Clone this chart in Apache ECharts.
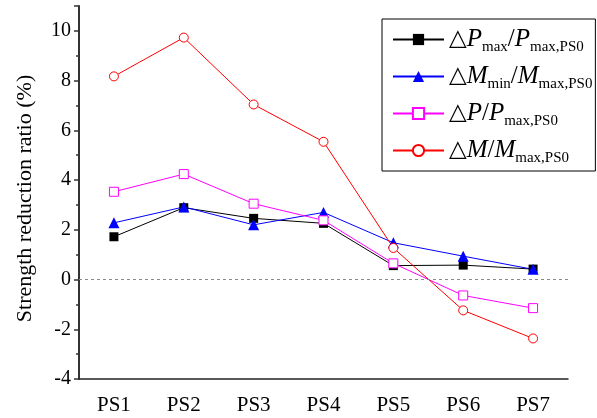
<!DOCTYPE html>
<html>
<head>
<meta charset="utf-8">
<script src="https://cdn.jsdelivr.net/npm/echarts@6/dist/echarts.min.js"></script>
<style>
    html, body { margin: 0; padding: 0; background: #fff; }
    #chart { width: 597px; height: 418px; }
</style>
</head>
<body>
<div id="chart"></div>
<script>
    // 数据
    var categories = ['PS1', 'PS2', 'PS3', 'PS4', 'PS5', 'PS6', 'PS7'];
    var dPmax = [1.72, 2.89, 2.46, 2.26, 0.56, 0.58, 0.42];
    var dMmin = [2.28, 2.92, 2.20, 2.70, 1.48, 0.94, 0.41];
    var dP = [3.53, 4.24, 3.05, 2.38, 0.65, -0.64, -1.15];
    var dM = [8.17, 9.73, 7.04, 5.54, 1.27, -1.24, -2.37];
    var yMin = -4, yMax = 11, yStep = 2;

    var FONT = '"Liberation Serif", "Times New Roman", serif';

    // 图例文字 (带下标)
    var legendText = {
        dPmax: '{d|△}{i|P}{s|max}{n|/}{i|P}{s|max,PS0}',
        dMmin: '{d|△}{i|M}{s|min}{n|/}{i|M}{s|max,PS0}',
        dP: '{d|△}{i|P}{n|/}{i|P}{s|max,PS0}',
        dM: '{d|△}{i|M}{n|/}{i|M}{s|max,PS0}'
    };

    var chart = echarts.init(document.getElementById('chart'));

    function lineSeries(name, data, color, symbol, size, hollow) {
        return {
            name: name,
            type: 'line',
            data: data,
            symbol: symbol,
            symbolSize: size,
            showAllSymbol: true,
            lineStyle: { color: color, width: 1 },
            itemStyle: {
                color: hollow ? '#fff' : color,
                borderColor: color,
                borderWidth: hollow ? 1 : 0
            },
            animation: false
        };
    }

    var series = [
        lineSeries('dPmax', dPmax, '#000000', 'rect', 9, false),
        lineSeries('dMmin', dMmin, '#0000ff', 'triangle', 11, false),
        lineSeries('dP', dP, '#ff00ff', 'rect', 9, true),
        lineSeries('dM', dM, '#ff0000', 'circle', 9, true)
    ];
    // 0 参考线
    series[3].markLine = {
        silent: true,
        symbol: ['none', 'none'],
        label: { show: false },
        emphasis: { disabled: true },
        lineStyle: { type: [3, 3], color: '#8a8a8a', width: 1, opacity: 1 },
        data: [{ yAxis: 0 }],
        animation: false
    };

    chart.setOption({
        backgroundColor: '#fff',
        textStyle: { fontFamily: FONT },
        grid: { left: 79, right: 29, top: 6, bottom: 39 },
        legend: {
            orient: 'vertical',
            left: 382,
            top: 19,
            padding: [5, 3, 5, 10],
            itemGap: 6,
            itemWidth: 51,
            itemHeight: 14,
            borderColor: '#000',
            borderWidth: 1,
            data: ['dPmax', 'dMmin', 'dP', 'dM'],
            formatter: function(name) { return legendText[name]; },
            textStyle: {
                fontFamily: FONT,
                color: '#000',
                rich: {
                    d: { fontSize: 23, fontFamily: '"DejaVu Sans", sans-serif', verticalAlign: 'middle', lineHeight: 26 },
                    i: { fontSize: 25, fontStyle: 'italic', fontFamily: FONT, verticalAlign: 'middle', lineHeight: 26 },
                    n: { fontSize: 25, fontFamily: FONT, verticalAlign: 'middle', lineHeight: 26 },
                    s: { fontSize: 15, fontFamily: FONT, verticalAlign: 'middle', lineHeight: 16, padding: [16, 0, 0, 0] }
                }
            }
        },
        xAxis: [{
            type: 'category',
            data: categories,
            boundaryGap: true,
            axisLine: { onZero: false, lineStyle: { color: '#222', width: 1.5 } },
            axisTick: { alignWithLabel: true, length: 6, lineStyle: { color: '#222', width: 1.5 } },
            axisLabel: { color: '#000', fontSize: 21, fontFamily: FONT, margin: 16 },
            splitLine: { show: false }
        }, {
            type: 'category',
            data: categories,
            position: 'bottom',
            boundaryGap: true,
            axisLine: { show: false, onZero: false },
            axisTick: { length: 3, lineStyle: { color: '#222', width: 1.5 } },
            axisLabel: { show: false },
            splitLine: { show: false }
        }],
        yAxis: {
            type: 'value',
            min: yMin,
            max: yMax,
            interval: yStep,
            name: 'Strength reduction ratio (%)',
            nameLocation: 'middle',
            nameGap: 43,
            nameTextStyle: { color: '#000', fontSize: 22, fontFamily: FONT, padding: [0, 12, 0, 0] },
            axisLine: { show: true, lineStyle: { color: '#333', width: 2 } },
            axisTick: { show: true, length: 5, lineStyle: { color: '#333', width: 1.5 } },
            minorTick: { show: true, splitNumber: 2, length: 3, lineStyle: { color: '#333', width: 1.5 } },
            axisLabel: { color: '#000', fontSize: 20, fontFamily: FONT, margin: 8, showMaxLabel: false },
            splitLine: { show: false }
        },
        series: series
    });
</script>
</body>
</html>
